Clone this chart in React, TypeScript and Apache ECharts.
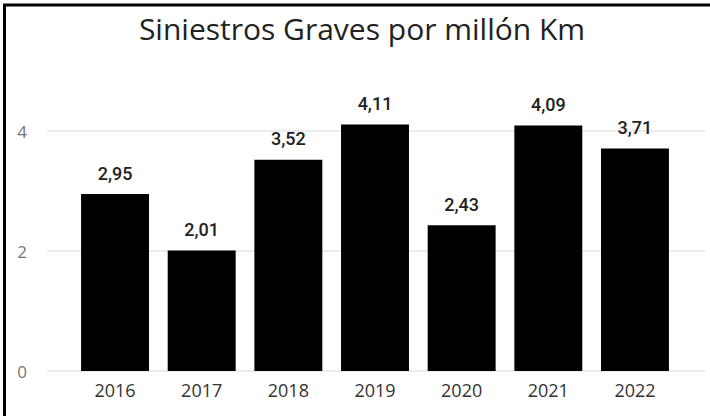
import React, { useEffect, useRef } from "react";
import * as echarts from "echarts";

const categories = ["2016", "2017", "2018", "2019", "2020", "2021", "2022"];
const values = [2.95, 2.01, 3.52, 4.11, 2.43, 4.09, 3.71];
const titleText = "Siniestros Graves por millón Km";

export default function App() {
  const ref = useRef<HTMLDivElement>(null);
  useEffect(() => {
    if (!ref.current) return;
    const chart = echarts.init(ref.current, null, { renderer: "svg" });
    const base = 371;
    const unit = 60;
    chart.setOption({
      animation: false,
      backgroundColor: "#ffffff",
      title: {
        text: titleText,
        left: 357,
        textAlign: "center",
        top: 8,
        textStyle: { fontFamily: "Open Sans", fontSize: 30, fontWeight: "normal", color: "#222222" },
      },
      graphic: [
        { type: "line", shape: { x1: 4.5, y1: 4, x2: 4.5, y2: 416 }, style: { stroke: "#000", lineWidth: 3 } },
        { type: "line", shape: { x1: 3, y1: 5, x2: 710, y2: 5 }, style: { stroke: "#000", lineWidth: 3 } },
      ],
      grid: [
        { left: 71.7, right: 710 - 678.3, top: base - 5 * unit, bottom: 416 - base },
        { left: 47, right: 5, top: base - 4 * unit, bottom: 416 - base },
      ],
      xAxis: [
        {
          type: "category",
          gridIndex: 0,
          data: categories,
          axisLine: { show: false },
          axisTick: { show: false },
          axisLabel: { color: "#333333", fontSize: 18, fontFamily: "Open Sans", margin: 10 },
        },
        { type: "value", gridIndex: 1, show: false, min: 0, max: 1 },
      ],
      yAxis: [
        { type: "value", gridIndex: 0, min: 0, max: 5, show: false, splitLine: { show: false } },
        {
          type: "value",
          gridIndex: 1,
          min: 0,
          max: 4,
          interval: 2,
          axisLine: { show: false },
          axisTick: { show: false },
          axisLabel: { color: "#777777", fontSize: 17, fontFamily: "Open Sans", margin: 20 },
          splitLine: { lineStyle: { color: "#e6e6e6", width: 1.5 } },
        },
      ],
      series: [
        {
          type: "bar",
          xAxisIndex: 0,
          yAxisIndex: 0,
          data: values,
          barCategoryGap: "21.6%",
          itemStyle: { color: "#000000" },
          label: {
            show: true,
            position: "top",
            distance: 12,
            color: "#222222",
            fontSize: 18,
            fontWeight: 500,
            fontFamily: "Roboto",
            formatter: (p: any) => Number(p.value).toFixed(2).replace(".", ","),
          },
        },
      ],
    });
    return () => chart.dispose();
  }, []);
  return (
    <div
      ref={ref}
      style={{ position: "fixed", left: 0, top: 0, width: 710, height: 416 }}
    />
  );
}
